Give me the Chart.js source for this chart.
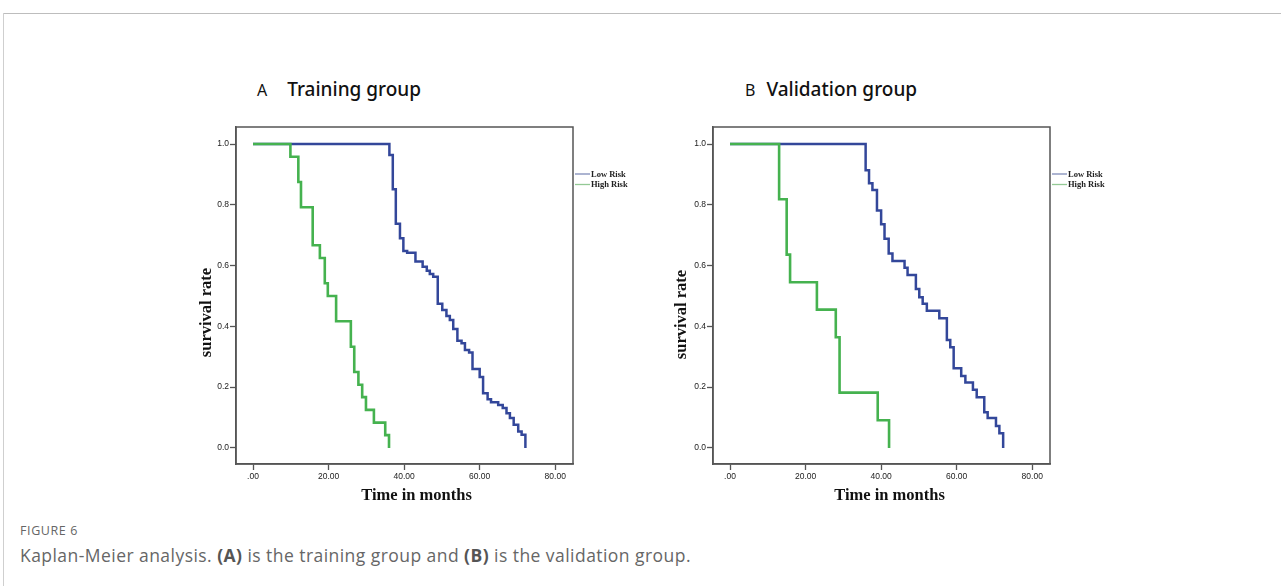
<!DOCTYPE html>
<html>
<head>
<meta charset="utf-8">
<script src="https://cdn.jsdelivr.net/npm/chart.js@4.4.0/dist/chart.umd.min.js"></script>
<style>
  html, body { margin: 0; padding: 0; background: #fff; }
  body { width: 1281px; height: 586px; position: relative; overflow: hidden; font-family: "Open Sans", sans-serif; }
  .frame-top { position: absolute; left: 3px; top: 13px; width: 1278px; height: 1px; background: #bdbdbd; }
  .frame-left { position: absolute; left: 3px; top: 13px; width: 1px; height: 573px; background: #cfcfcf; }
  .panel-title { position: absolute; top: 76px; color: #111; white-space: nowrap; font-family: "Noto Sans", sans-serif; }
  .panel-title .lt { font-size: 16px; }
  .panel-title .tt { font-size: 19px; font-weight: 500; }
  .chartbox { position: absolute; top: 115px; width: 500px; height: 400px; }
  .fig { position: absolute; left: 20px; top: 522px; font-size: 12.5px; color: #666; letter-spacing: 0.6px; }
  .cap { position: absolute; left: 20px; top: 543px; font-size: 17.5px; color: #666; white-space: nowrap; letter-spacing: 0.45px; }
  .cap b { color: #555; font-weight: 700; }
</style>
</head>
<body>
<div class="frame-top"></div>
<div class="frame-left"></div>

<div class="panel-title" style="left:257px;"><span class="lt" style="margin-right:20px;">A</span><span class="tt">Training group</span></div>
<div class="panel-title" style="left:745px;"><span class="lt" style="margin-right:11px;">B</span><span class="tt">Validation group</span></div>

<div class="chartbox" style="left:160px;"><canvas id="chartA" width="500" height="400"></canvas></div>
<div class="chartbox" style="left:637px;"><canvas id="chartB" width="500" height="400"></canvas></div>

<div class="fig">FIGURE 6</div>
<div class="cap">Kaplan-Meier analysis. <b>(A)</b> is the training group and <b>(B)</b> is the validation group.</div>

<script>
// ---------- DATA ----------
const seriesLabels = ['Low Risk', 'High Risk'];

// Training group (A)
const trainLowTime = [0, 36.1, 37.0, 37.8, 38.9, 39.8, 40.8, 43.0, 44.9, 46.0, 46.8, 47.7, 48.9, 50.1, 51.2, 52.1, 53.0, 54.1, 55.2, 56.1, 57.2, 58.1, 60.0, 60.9, 62.1, 63.0, 64.9, 66.1, 67.1, 68.0, 69.0, 70.2, 71.1, 72.1];
const trainLowSurv = [1.0, 0.964, 0.851, 0.738, 0.690, 0.648, 0.642, 0.613, 0.596, 0.583, 0.572, 0.563, 0.474, 0.454, 0.434, 0.421, 0.391, 0.353, 0.344, 0.322, 0.314, 0.260, 0.233, 0.180, 0.160, 0.150, 0.141, 0.131, 0.114, 0.098, 0.076, 0.054, 0.043, 0.0];
const trainHighTime = [0, 9.9, 12.0, 12.7, 15.8, 17.7, 19.0, 19.8, 22.0, 25.9, 26.8, 27.9, 28.9, 29.9, 32.0, 35.0, 36.0];
const trainHighSurv = [1.0, 0.958, 0.875, 0.792, 0.667, 0.625, 0.542, 0.500, 0.417, 0.333, 0.250, 0.208, 0.167, 0.125, 0.083, 0.042, 0.0];

// Validation group (B)
const validLowTime = [0, 35.9, 36.8, 37.7, 38.9, 40.0, 40.9, 42.0, 43.0, 46.2, 47.0, 49.2, 50.1, 51.0, 52.1, 55.4, 57.4, 58.3, 59.2, 61.2, 62.3, 64.3, 65.3, 67.3, 68.2, 70.4, 71.3, 72.3];
const validLowSurv = [1.0, 0.914, 0.871, 0.849, 0.781, 0.736, 0.688, 0.640, 0.615, 0.593, 0.569, 0.523, 0.496, 0.474, 0.451, 0.427, 0.355, 0.331, 0.262, 0.237, 0.215, 0.191, 0.167, 0.117, 0.098, 0.072, 0.048, 0.0];
const validHighTime = [0, 13.0, 15.0, 15.9, 23.0, 28.0, 29.0, 39.1, 42.1];
const validHighSurv = [1.0, 0.818, 0.636, 0.545, 0.455, 0.364, 0.182, 0.091, 0.0];

// Axes
const xTickValues = [0, 20, 40, 60, 80];
const xTickLabels = ['.00', '20.00', '40.00', '60.00', '80.00'];
const yTickValues = [0, 0.2, 0.4, 0.6, 0.8, 1.0];
const yTickLabels = ['0.0', '0.2', '0.4', '0.6', '0.8', '1.0'];
const xAxisTitle = 'Time in months';
const yAxisTitle = 'survival rate';

// ---------- STYLE ----------
const BLUE = '#33479a';
const GREEN = '#45b24f';
const LEG_BLUE = '#7f8bb9';
const LEG_GREEN = '#93c995';
const AXIS = '#555';

function toPoints(t, s) { return t.map((x, i) => ({ x: x, y: s[i] })); }

const decor = {
  id: 'decor',
  afterDraw(chart, args, opts) {
    const { ctx, chartArea: a } = chart;
    ctx.save();
    // plot box
    ctx.strokeStyle = AXIS;
    ctx.lineWidth = 1.5;
    ctx.strokeRect(a.left, a.top, a.right - a.left, a.bottom - a.top);
    // legend (outside box, right)
    const items = [
      { label: seriesLabels[0], color: LEG_BLUE },
      { label: seriesLabels[1], color: LEG_GREEN }
    ];
    ctx.font = 'bold 8.5px "Liberation Serif", serif';
    ctx.textBaseline = 'middle';
    items.forEach((it, i) => {
      const y = a.top + 47 + i * 10.5;
      ctx.strokeStyle = it.color;
      ctx.lineWidth = 1.3;
      ctx.beginPath();
      ctx.moveTo(a.right + 2, y);
      ctx.lineTo(a.right + 17, y);
      ctx.stroke();
      ctx.fillStyle = '#222';
      ctx.fillText(it.label, a.right + 18, y + 0.5);
    });
    // axis titles
    ctx.fillStyle = '#111';
    ctx.font = 'bold 16.5px "Liberation Serif", serif';
    ctx.textAlign = 'center';
    ctx.textBaseline = 'middle';
    ctx.fillText(xAxisTitle, (a.left + a.right) / 2 + opts.xShift, opts.xTitleY);
    ctx.save();
    ctx.translate(opts.yTitleX, (a.top + a.bottom) / 2 + opts.yShift);
    ctx.rotate(-Math.PI / 2);
    ctx.fillText(yAxisTitle, 0, 0);
    ctx.restore();
    ctx.restore();
  }
};

function makeChart(id, lowT, lowS, highT, highS, titleOpts) {
  return new Chart(document.getElementById(id), {
    type: 'line',
    data: {
      datasets: [
        { label: seriesLabels[0], data: toPoints(lowT, lowS), borderColor: BLUE, borderWidth: 2.5, stepped: 'before', pointRadius: 0, fill: false, order: 1 },
        { label: seriesLabels[1], data: toPoints(highT, highS), borderColor: GREEN, borderWidth: 2.6, stepped: 'before', pointRadius: 0, fill: false, order: 0 }
      ]
    },
    options: {
      responsive: false,
      animation: false,
      layout: { padding: { top: 12, right: 87, left: 0, bottom: 0 } },
      plugins: { legend: { display: false }, tooltip: { enabled: false }, decor: titleOpts },
      scales: {
        x: {
          type: 'linear',
          min: -4.5, max: 84.7,
          afterFit(s) { s.height = 51; },
          afterBuildTicks(s) { s.ticks = xTickValues.map(v => ({ value: v })); },
          ticks: {
            autoSkip: false, maxRotation: 0, padding: 2,
            color: '#222', font: { family: '"Liberation Sans", Arial, sans-serif', size: 8.5 },
            callback: (v) => xTickLabels[xTickValues.indexOf(v)]
          },
          grid: { display: true, drawOnChartArea: false, drawTicks: true, tickLength: 6, tickColor: AXIS, tickWidth: 1.3 },
          border: { display: true, color: AXIS, width: 1.5 }
        },
        y: {
          type: 'linear',
          min: -0.053, max: 1.056,
          afterFit(s) { s.width = 76; },
          afterBuildTicks(s) { s.ticks = yTickValues.map(v => ({ value: v })); },
          ticks: {
            autoSkip: false, padding: 1,
            color: '#222', font: { family: '"Liberation Sans", Arial, sans-serif', size: 8.5 },
            callback: (v) => yTickLabels[yTickValues.findIndex(t => Math.abs(t - v) < 1e-6)]
          },
          grid: { display: true, drawOnChartArea: false, drawTicks: true, tickLength: 6, tickColor: AXIS, tickWidth: 1.3 },
          border: { display: true, color: AXIS, width: 1.5 }
        }
      }
    },
    plugins: [decor]
  });
}

makeChart('chartA', trainLowTime, trainLowSurv, trainHighTime, trainHighSurv, { xShift: 12, xTitleY: 381, yTitleX: 47, yShift: 17 });
makeChart('chartB', validLowTime, validLowSurv, validHighTime, validHighSurv, { xShift: 8, xTitleY: 381, yTitleX: 45, yShift: 19 });
</script>
</body>
</html>
